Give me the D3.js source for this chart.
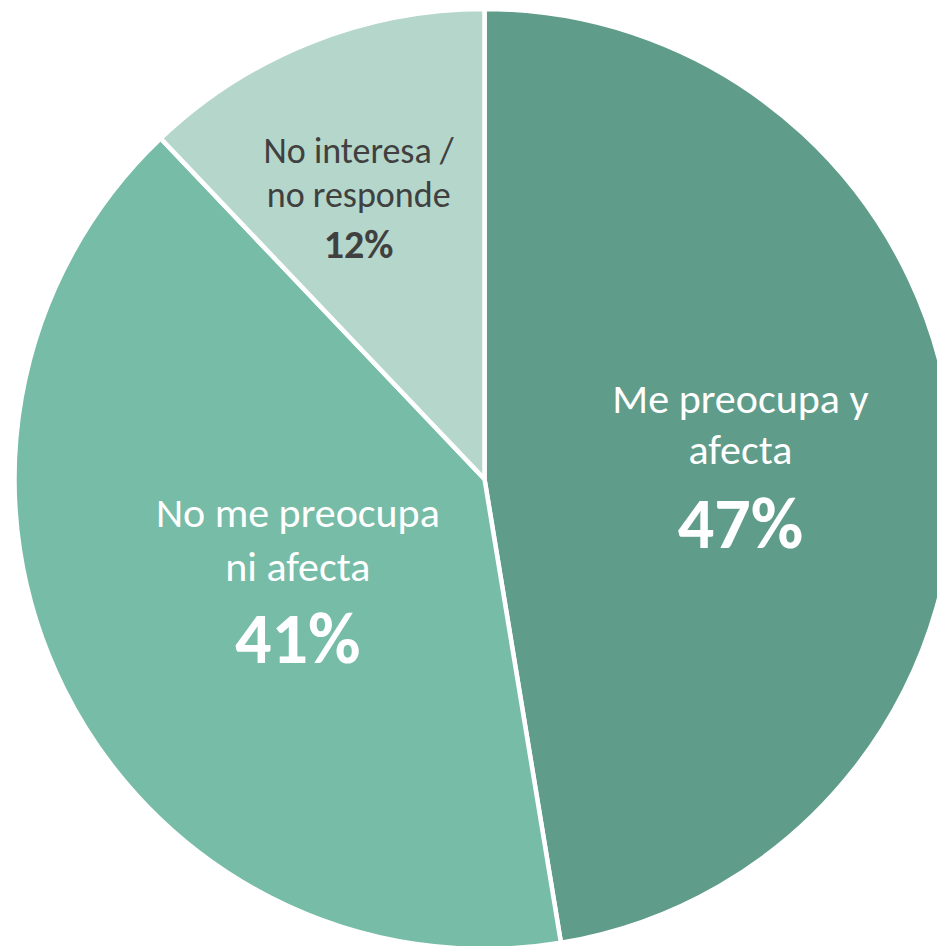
<!DOCTYPE html>
<html>
<head>
<meta charset="utf-8">
<script src="https://cdn.jsdelivr.net/npm/d3@7"></script>
<style>
  html, body { margin: 0; padding: 0; background: #ffffff; }
  svg { display: block; }
  .sliceText { font-family: Carlito, Calibri, Lato, sans-serif; text-anchor: middle; }
</style>
</head>
<body>
<div id="pieChart"></div>
<script>
// DATA
const categories = ['Me preocupa y afecta', 'No me preocupa ni afecta', 'No interesa / no responde'];
const labelLines = [['Me preocupa y', 'afecta'], ['No me preocupa', 'ni afecta'], ['No interesa /', 'no responde']];
const values = [47.4, 40.5, 12.1];
const colors = ['#5f9c89', '#76bca7', '#b5d6cb'];
const textColors = ['#ffffff', '#ffffff', '#404040'];

// LAYOUT
const width = 937, height = 946;
const cx = 484.5, cy = 479, radius = 470;
// label placement per slice: radius of the anchor and angle nudge (degrees)
const labelLayout = [
    {r: 256, da: 3, size: 42, bigSize: 72, lineGap: 51, bigGap: 84, top: -58},
    {r: 220, da: -5.5, size: 42, bigSize: 72, lineGap: 54, bigGap: 82, top: -68},
    {r: 306, da: -2.5, size: 36, bigSize: 40, lineGap: 44, bigGap: 51, top: -37}
];

let data = categories.map((c, i) => ({
    name: c, lines: labelLines[i], value: values[i],
    color: colors[i], textColor: textColors[i], layout: labelLayout[i]
}));

let svg = d3.select('#pieChart').append('svg')
    .attr('width', width)
    .attr('height', height);

let pie = d3.pie()
    .sort(null)
    .value(d => d.value);

let arc = d3.arc()
    .innerRadius(0)
    .outerRadius(radius);

let canvas = svg.append('g')
    .attr('transform', `translate(${cx}, ${cy})`);

let arcs = pie(data);

canvas.append('g')
    .selectAll('path')
    .data(arcs)
    .join('path')
    .attr('d', arc)
    .attr('fill', d => d.data.color)
    .attr('stroke', '#ffffff')
    .attr('stroke-width', 4.5)
    .attr('stroke-linejoin', 'miter');

let labels = canvas.append('g')
    .selectAll('g')
    .data(arcs)
    .join('g')
    .attr('transform', d => {
        let L = d.data.layout;
        let a = (d.startAngle + d.endAngle) / 2 + L.da * Math.PI / 180;
        return `translate(${L.r * Math.sin(a)}, ${-L.r * Math.cos(a)})`;
    });

labels.each(function(d){
    let g = d3.select(this);
    let L = d.data.layout;
    d.data.lines.forEach((line, i) => {
        g.append('text')
            .classed('sliceText', true)
            .attr('y', L.top + i * L.lineGap)
            .attr('fill', d.data.textColor)
            .style('font-size', L.size + 'px')
            .text(line);
    });
    g.append('text')
        .classed('sliceText', true)
        .attr('y', L.top + (d.data.lines.length - 1) * L.lineGap + L.bigGap)
        .attr('fill', d.data.textColor)
        .style('font-size', L.bigSize + 'px')
        .style('font-weight', 700)
        .text(Math.round(d.data.value) + '%');
});
</script>
</body>
</html>
